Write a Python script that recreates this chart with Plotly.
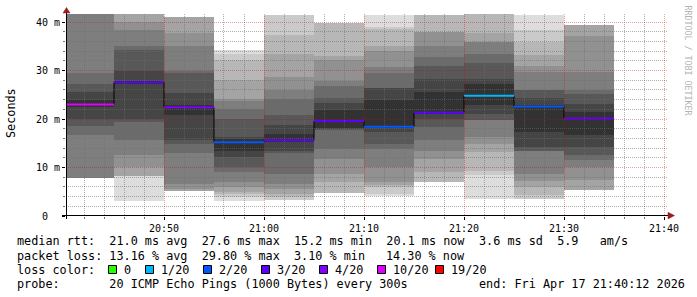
import math
import plotly.graph_objects as go
from datetime import datetime, timedelta

# ---------------- data ----------------
interval_end = ["2026-04-17 20:45:00", "2026-04-17 20:50:00", "2026-04-17 20:55:00",
                "2026-04-17 21:00:00", "2026-04-17 21:05:00", "2026-04-17 21:10:00",
                "2026-04-17 21:15:00", "2026-04-17 21:20:00", "2026-04-17 21:25:00",
                "2026-04-17 21:30:00", "2026-04-17 21:35:00"]
median_ms = [23.0, 27.6, 22.4, 15.2, 15.6, 19.6, 18.4, 21.3, 24.8, 22.6, 20.1]
loss_pings = [5.96, 2.7, 3.3, 1.8, 2.6, 2.8, 1.7, 2.7, 0.62, 1.9, 2.86]

# sorted ping rtts (ms) per 5-minute step, 20 slots, None = no value
pings_2045 = [None, None, None, None, None, 7.8, 16.6, 18.5, 20.1, 22.5,
              24.0, 25.5, 27.2, 29.5, 43.0, None, None, None, None, None]
pings_2050 = [3.1, 8.2, 8.2, 8.2, 10.1, 12.5, 15.6, 19.4, 20.1, 27.2,
              27.8, 29.9, 34.2, 35.0, 38.3, 40.0, 43.0, 43.0, 43.0, 43.0]
pings_2055 = [None, None, None, 5.1, 5.6, 6.7, 12.9, 14.9, 15.6, 20.8,
              22.8, 25.4, 29.4, 30.0, 35.0, 37.7, 41.0, None, None, None]
pings_2100 = [3.1, 3.9, 4.5, 5.0, 6.0, 7.0, 9.1, 10.1, 12.2, 13.5,
              15.8, 16.3, 20.1, 22.1, 23.7, 24.2, 28.0, 32.2, 33.5, 34.3]
pings_2105 = [None, 3.4, 3.9, 4.6, 5.6, 6.7, 8.7, 12.9, 13.5, 15.3,
              17.0, 18.7, 20.8, 24.2, 25.9, 28.7, 33.5, 37.3, 41.4, None]
pings_2110 = [None, None, 4.7, 7.0, 8.7, 11.8, 13.9, 17.7, 18.0, 18.2,
              21.8, 23.2, 24.4, 26.9, 27.8, 32.2, 32.9, 39.7, None, None]
pings_2115 = [4.1, 4.6, 6.0, 6.3, 7.0, 10.1, 13.9, 14.9, 17.3, 18.2,
              24.0, 26.3, 26.3, 29.4, 30.7, 34.0, 35.0, 38.6, 39.0, 41.4]
pings_2120 = [None, None, 7.0, 9.1, 11.8, 13.5, 15.6, 18.4, 20.1, 21.0,
              25.6, 28.3, 30.9, 32.8, 35.0, 37.9, 37.9, 41.4, None, None]
pings_2125 = [3.6, 8.4, 9.3, 13.2, 14.9, 16.3, 19.7, 19.7, 21.0, 22.8,
              27.2, 28.3, 31.6, 33.5, 35.9, 35.9, 37.7, 43.0, 43.0, 43.0]
pings_2130 = [3.5, 3.5, 4.3, 6.0, 7.2, 8.7, 13.5, 13.5, 14.2, 17.3,
              22.8, 24.4, 25.9, 25.9, 29.7, 30.9, 33.1, 35.9, 38.3, 41.5]
pings_2135 = [None, None, None, 5.3, 7.5, 10.2, 11.5, 12.5, 14.2, 16.8,
              21.4, 23.0, 25.1, 25.9, 29.7, 37.1, 39.3, None, None, None]
pings_by_step = [pings_2045, pings_2050, pings_2055, pings_2100, pings_2105, pings_2110,
                 pings_2115, pings_2120, pings_2125, pings_2130, pings_2135]

view_start = "2026-04-17 20:40:12"
view_end = "2026-04-17 21:40:12"
step_seconds = 300

y_tick_vals = [0, 10, 20, 30, 40]
y_tick_text = ["0\u00a0\u00a0", "10\u00a0m", "20\u00a0m", "30\u00a0m", "40\u00a0m"]
y_max = 41.65

loss_levels = [0, 1, 2, 3, 4, 10, 19]
loss_colors = ["#26ff00", "#00b8ff", "#0059ff", "#5e00ff", "#7e00ff", "#dd00ff", "#ff0000"]
loss_labels = ["0", "1/20", "2/20", "3/20", "4/20", "10/20", "19/20"]

legend_rtt = "median rtt:  21.0 ms avg  27.6 ms max  15.2 ms min  20.1 ms now"
legend_rtt_tail = "3.6 ms sd  5.9   am/s"
legend_loss = "packet loss: 13.16 % avg  29.80 % max  3.10 % min"
legend_loss_now = "14.30 % now"
legend_color_title = "loss color:"
legend_probe = "probe:       20 ICMP Echo Pings (1000 Bytes) every 300s"
legend_end = "end: Fri Apr 17 21:40:12 2026"
watermark = "RRDTOOL / TOBI OETIKER"
y_title = "Seconds"

# ---------------- layout constants (pixels) ----------------
W, H = 697, 297
PL, PR, PT, PB = 66, 666, 14, 216
MONO = "DejaVu Sans Mono"


def px(xp):
    return (xp - PL) / (PR - PL)


def py(yp):
    return (PB - yp) / (PB - PT)


def nb(s):
    return s.replace(" ", "\u00a0")


def loss_color(loss):
    for lvl, col in zip(loss_levels, loss_colors):
        if loss <= lvl:
            return col
    return loss_colors[-1]


ends = [datetime.fromisoformat(s) for s in interval_end]
starts = [e - timedelta(seconds=step_seconds) for e in ends]
centers = [e - timedelta(seconds=step_seconds / 2) for e in ends]
t0 = datetime.fromisoformat(view_start)
t1 = datetime.fromisoformat(view_end)

fig = go.Figure()

# ---------------- smoke (smokeping algorithm) ----------------
n_slots = 20
half = n_slots / 2
for ibot in range(1, int(half) + 1):
    itop = n_slots + 1 - ibot
    grey = int(190 / half * (half - ibot)) + 50
    col = "rgb(%d,%d,%d)" % (grey, grey, grey)
    bases, heights = [], []
    for pings in pings_by_step:
        lo, hi = pings[ibot - 1], pings[itop - 1]
        if lo is None or hi is None:
            bases.append(None)
            heights.append(None)
        else:
            bases.append(lo)
            heights.append(hi - lo)
    fig.add_trace(go.Bar(x=centers, y=heights, base=bases, width=step_seconds * 1000,
                         marker=dict(color=col, line=dict(width=0)),
                         hoverinfo="skip", showlegend=False))

# ---------------- median line ----------------
fig.add_trace(go.Scatter(x=starts + [ends[-1]], y=median_ms + [median_ms[-1]],
                         mode="lines", line=dict(color="#000000", width=1, shape="hv"),
                         hoverinfo="skip", showlegend=False))
seg = {}
for s, e, m, l in zip(starts, ends, median_ms, loss_pings):
    c = loss_color(l)
    seg.setdefault(c, ([], []))
    seg[c][0].extend([s, e, None])
    seg[c][1].extend([m, m, None])
for c, (xs, ys) in seg.items():
    fig.add_trace(go.Scatter(x=xs, y=ys, mode="lines", line=dict(color=c, width=2),
                             hoverinfo="skip", showlegend=False))

# ---------------- grid (drawn above the smoke like rrdtool, snapped to pixels) ----------------
shapes = []
MINOR = "rgba(110,110,110,0.55)"
MAJOR = "rgba(220,0,0,0.38)"
DOTS = "1px,1px"


def snap(p):
    return math.floor(p) + 0.5


for v in range(2, 42, 2):
    yp = snap(PB - v * (PB - PT) / y_max)
    shapes.append(dict(type="line", xref="paper", yref="paper", x0=0, x1=px(668),
                       y0=py(yp), y1=py(yp),
                       line=dict(color=MAJOR if v % 10 == 0 else MINOR, width=1, dash=DOTS),
                       layer="above"))
t = datetime.fromisoformat("2026-04-17 20:42:00")
span = (t1 - t0).total_seconds()
while t <= t1:
    xp = snap(PL + (t - t0).total_seconds() / span * (PR - PL))
    shapes.append(dict(type="line", xref="paper", yref="paper", x0=px(xp), x1=px(xp),
                       y0=py(215), y1=py(13),
                       line=dict(color=MAJOR if t.minute % 10 == 0 else MINOR, width=1, dash=DOTS),
                       layer="above"))
    t += timedelta(minutes=2)

# axis lines and arrows
shapes.append(dict(type="line", xref="paper", yref="paper", x0=px(62), x1=px(669),
                   y0=py(215.5), y1=py(215.5), line=dict(color="#000", width=1), layer="above"))
shapes.append(dict(type="line", xref="paper", yref="paper", x0=px(66.5), x1=px(66.5),
                   y0=py(219), y1=py(12), line=dict(color="#000", width=1), layer="above"))
ARROW = "#9b1c1c"


def tri(points):
    return "M " + " L ".join("%f,%f" % (px(a), py(b)) for a, b in points) + " Z"


shapes.append(dict(type="path", xref="paper", yref="paper",
                   path=tri([(668, 212.3), (668, 219.0), (674.5, 215.6)]),
                   fillcolor=ARROW, line=dict(color=ARROW, width=0.5), layer="above"))
shapes.append(dict(type="path", xref="paper", yref="paper",
                   path=tri([(63.0, 13.0), (70.0, 13.0), (66.5, 7.5)]),
                   fillcolor=ARROW, line=dict(color=ARROW, width=0.5), layer="above"))

# legend squares
sq_x = [108.5, 145.5, 203.5, 261.5, 319.5, 377.5, 435.5]
for x0, c in zip(sq_x, loss_colors):
    shapes.append(dict(type="rect", xref="paper", yref="paper", x0=px(x0), x1=px(x0 + 8),
                       y0=py(273.5), y1=py(265.5), fillcolor=c,
                       line=dict(color="#000", width=1), layer="above"))

# ---------------- texts ----------------
ann = []


def text(xp, yp, s, size=11.8, color="#000", angle=0, xanchor="left"):
    ann.append(dict(xref="paper", yref="paper", x=px(xp), y=py(yp), text=nb(s),
                    showarrow=False, xanchor=xanchor, yanchor="middle", borderpad=0,
                    textangle=angle, font=dict(family=MONO, size=size, color=color)))


L1, L2, L3, L4 = 241.5, 255.5, 269.5, 283.5
text(15.5, L1, legend_rtt)
text(477.6, L1, legend_rtt_tail)
text(15.5, L2, legend_loss)
text(384.7, L2, legend_loss_now)
text(15.5, L3, legend_color_title)
for x0, lab in zip(sq_x, loss_labels):
    text(x0 + 14.3, L3, lab)
text(15.5, L4, legend_probe)
text(477.6, L4, legend_end)
text(10.5, 113.5, y_title, size=11.8, angle=-90, xanchor="center")
text(687.5, 60.0, watermark, size=8.3, color="#b4b4b4", angle=90, xanchor="center")

fig.update_layout(
    width=W, height=H,
    margin=dict(l=PL, r=W - PR, t=PT, b=H - PB, pad=0),
    paper_bgcolor="white", plot_bgcolor="white",
    showlegend=False, barmode="overlay", bargap=0,
    shapes=shapes, annotations=ann,
    xaxis=dict(type="date", range=[view_start, view_end], showgrid=False, zeroline=False,
               showline=False, tickmode="linear", tick0="2026-04-17 20:50:00", dtick=600000,
               tickformat="%H:%M", ticks="outside", ticklen=3, tickcolor="#000",
               tickfont=dict(family=MONO, size=10, color="#000"),
               minor=dict(tickmode="linear", tick0="2026-04-17 20:42:00", dtick=120000,
                          ticks="outside", ticklen=2, tickcolor="#777", showgrid=False)),
    yaxis=dict(range=[0, y_max], showgrid=False, zeroline=False, showline=False,
               tickmode="array", tickvals=y_tick_vals, ticktext=y_tick_text,
               ticks="outside", ticklen=3, tickcolor="#000",
               tickfont=dict(family=MONO, size=10, color="#000"),
               minor=dict(tickmode="linear", tick0=0, dtick=2, ticks="outside",
                          ticklen=2, tickcolor="#777", showgrid=False)),
)

fig.write_html("out.html")
